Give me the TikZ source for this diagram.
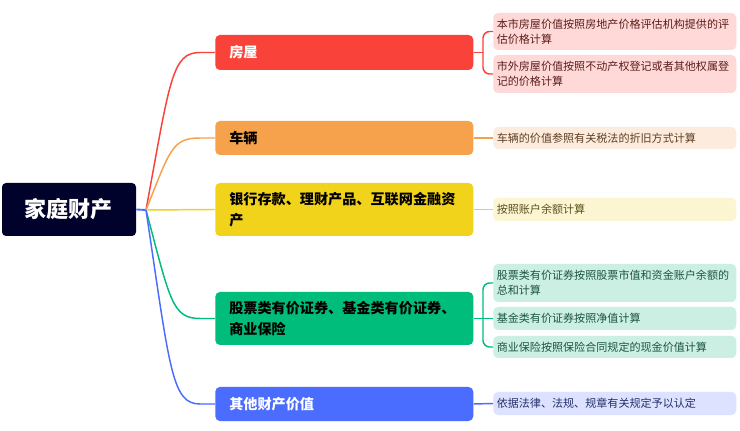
\documentclass[tikz,border=0pt]{standalone}
\usepackage{fontspec}
\setmainfont{Noto Sans CJK SC}
\definecolor{rootc}{HTML}{01022B}
\definecolor{redc}{HTML}{F94239}
\definecolor{redl}{HTML}{FFD9D8}
\definecolor{redt}{HTML}{5A1E1B}
\definecolor{orac}{HTML}{F6A24C}
\definecolor{oral}{HTML}{FDEBDD}
\definecolor{orat}{HTML}{5E3F22}
\definecolor{yelc}{HTML}{F2D31B}
\definecolor{yell}{HTML}{FCF5D1}
\definecolor{yelt}{HTML}{5A5020}
\definecolor{grnc}{HTML}{00BD7C}
\definecolor{grnl}{HTML}{CCEFE3}
\definecolor{grnt}{HTML}{1C5440}
\definecolor{bluc}{HTML}{4A6CFF}
\definecolor{blul}{HTML}{DCE2FF}
\definecolor{blut}{HTML}{23306B}
\tikzset{
  rootbox/.style={fill=rootc, text=white, rounded corners=3pt, minimum width=100.5pt, minimum height=39.75pt, inner sep=0pt, font=\fontsize{16.5pt}{20pt}\selectfont\bfseries},
  branchbox/.style={anchor=west, rounded corners=3.5pt, minimum width=193.5pt, inner xsep=10.5pt, inner ysep=0pt, text width=172.5pt, align=left, font=\fontsize{10.6pt}{15.75pt}\selectfont\bfseries},
  leafbox/.style={anchor=west, rounded corners=3.5pt, minimum width=182.25pt, inner xsep=2.6pt, inner ysep=0pt, text width=177pt, align=left, font=\fontsize{8.3pt}{11.25pt}\selectfont},
  conn/.style={line width=1.1pt},
}
\begin{document}
\begin{tikzpicture}[x=0.75pt, y=-0.75pt]
\useasboundingbox[fill=white] (0,0) rectangle (740,431);
% root
\node[rootbox] (root) at (69,209.5) {家庭财产};
\coordinate (bp) at (146,210);
% branches
\node[branchbox, fill=redc, text=white, minimum height=26.25pt] (house) at (215,52.5) {房屋};
\node[branchbox, fill=orac, text=black, minimum height=25.5pt] (car) at (215,138) {车辆};
\node[branchbox, fill=yelc, text=black, minimum height=39.75pt] (bank) at (215,209.5) {银行存款、理财产品、互联网金融资\\产};
\node[branchbox, fill=grnc, text=black, minimum height=39.75pt] (stock) at (215,318.5) {股票类有价证券、基金类有价证券、\\商业保险};
\node[branchbox, fill=bluc, text=white, minimum height=25.5pt] (other) at (215,404) {其他财产价值};
% leaves
\node[leafbox, fill=redl, text=redt, minimum height=27.75pt] (h1) at (493,31.5) {本市房屋价值按照房地产价格评估机构提供的评\\估价格计算};
\node[leafbox, fill=redl, text=redt, minimum height=28.5pt] (h2) at (493,74) {市外房屋价值按照不动产权登记或者其他权属登\\记的价格计算};
\node[leafbox, fill=oral, text=orat, minimum height=16.5pt] (c1) at (493,138) {车辆的价值参照有关税法的折旧方式计算};
\node[leafbox, fill=yell, text=yelt, minimum height=17.25pt] (b1) at (493,209.5) {按照账户余额计算};
\node[leafbox, fill=grnl, text=grnt, minimum height=28.5pt] (s1) at (493,283) {股票类有价证券按照股票市值和资金账户余额的\\总和计算};
\node[leafbox, fill=grnl, text=grnt, minimum height=17.25pt] (s2) at (493,318.5) {基金类有价证券按照净值计算};
\node[leafbox, fill=grnl, text=grnt, minimum height=16.5pt] (s3) at (493,347) {商业保险按照保险合同规定的现金价值计算};
\node[leafbox, fill=blul, text=blut, minimum height=17.25pt] (o1) at (493,403.5) {依据法律、法规、规章有关规定予以认定};
% root connector
\draw[line width=1.4pt, bluc] (root.east) -- (bp);
% branch connectors
\draw[conn, redc] (bp) .. controls (170,79.3) and (172,52.5) .. (200,52.5) -- (house.west);
\draw[conn, orac] (bp) .. controls (170,150) and (172,138) .. (200,138) -- (car.west);
\draw[conn, yelc] (bp) -- (bank.west);
\draw[conn, grnc] (bp) .. controls (170,300) and (172,318.5) .. (200,318.5) -- (stock.west);
\draw[conn, bluc] (bp) .. controls (170,371) and (172,404) .. (200,404) -- (other.west);
% leaf connectors
\coordinate (hj) at (483,52.5);
\draw[conn, redc] (house.east) -- (hj);
\draw[conn, redc, rounded corners=5pt] (h1.west) -| (hj) |- (h2.west);
\draw[conn, orac] (car.east) -- (c1.west);
\draw[conn, yelc] (bank.east) -- (b1.west);
\coordinate (sj) at (483,318.5);
\draw[conn, grnc] (stock.east) -- (s2.west);
\draw[conn, grnc, rounded corners=5pt] (s1.west) -| (sj) |- (s3.west);
\draw[conn, bluc] (other.east) -- (o1.west);
\end{tikzpicture}
\end{document}
